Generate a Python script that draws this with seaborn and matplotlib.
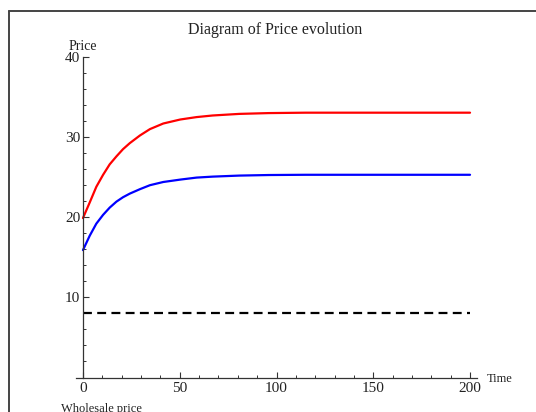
import numpy as np
import pandas as pd
import matplotlib
matplotlib.use("Agg")
import matplotlib.pyplot as plt
from matplotlib.lines import Line2D
from matplotlib.ticker import MultipleLocator
import seaborn as sns

# ---- data ----
time = [0, 3.5, 6.9, 10.4, 13.8, 17.3, 20.7, 24.2, 29.4, 34.6, 41.5, 50.3,
        58.7, 67, 80.8, 96, 115, 140, 170, 200]
retail_price = [19.9, 21.85, 23.8, 25.3, 26.6, 27.6, 28.5, 29.25, 30.2, 31.0,
                31.7, 32.2, 32.5, 32.7, 32.9, 33.0, 33.05, 33.05, 33.05, 33.05]
other_price = [15.9, 17.7, 19.2, 20.3, 21.2, 21.95, 22.5, 22.95, 23.5, 24.0,
               24.4, 24.7, 24.95, 25.07, 25.2, 25.27, 25.3, 25.3, 25.3, 25.3]
wholesale_time = [0, 200]
wholesale_price = [8.0, 8.0]

x_ticks = [0, 50, 100, 150, 200]
y_ticks = [10, 20, 30, 40]

title = "Diagram of Price evolution"
xlabel = "Time"
ylabel = "Price"
bottom_note = "Wholesale price"

sns.set_theme(style="white")
plt.rcParams['font.family'] = ['Liberation Serif', 'DejaVu Serif']

fig = plt.figure(figsize=(5.36, 4.12), dpi=100)
fig.patch.set_facecolor("white")

W, H = 536.0, 412.0
left_px, right_px = 76.0, 477.0
top_px, bot_px = 57.0, 377.5
ax = fig.add_axes([left_px / W, 1 - bot_px / H,
                   (right_px - left_px) / W, (bot_px - top_px) / H])

df_curves = pd.DataFrame({"t": time + time,
                          "p": retail_price + other_price,
                          "series": ["red"] * len(time) + ["blue"] * len(time)})
sns.lineplot(data=df_curves, x="t", y="p", hue="series",
             palette={"red": "#ff0000", "blue": "#0000ff"},
             linewidth=1.6, legend=False, ax=ax, estimator=None, sort=False)
for ln in ax.lines:
    ln.set_solid_joinstyle("round")

df_w = pd.DataFrame({"t": wholesale_time, "p": wholesale_price})
sns.lineplot(data=df_w, x="t", y="p", color="black", linewidth=1.6,
             ax=ax, legend=False)
ax.lines[-1].set_dashes([4.0, 2.4])

ax.set_xlim(-3.6, 203.6)
ax.set_ylim(0, 40)
ax.set_xlabel("")
ax.set_ylabel("")

for s in ["top", "right"]:
    ax.spines[s].set_visible(False)
ax.spines["left"].set_position(("data", 0))
ax.spines["left"].set_bounds(0, 40)
for s in ["left", "bottom"]:
    ax.spines[s].set_color("#333333")
    ax.spines[s].set_linewidth(0.9)

ax.set_xticks(x_ticks)
ax.set_yticks(y_ticks)
ax.xaxis.set_minor_locator(MultipleLocator(10))
ax.yaxis.set_minor_locator(MultipleLocator(2))
ax.tick_params(axis="both", which="major", direction="in", length=4.0,
               width=0.8, color="#333333", labelsize=11, labelcolor="#222222")
ax.tick_params(axis="both", which="minor", direction="in", length=2.2,
               width=0.7, color="#333333")
ax.tick_params(axis="x", which="both", bottom=True, pad=3.5)
ax.tick_params(axis="y", which="both", left=True, pad=2)
ax.grid(False)

fig.text(275 / W, 1 - 30 / H, title, ha="center", va="center", fontsize=11.5,
         color="#222222")
fig.text(83 / W, 1 - 46 / H, ylabel, ha="center", va="center", fontsize=10,
         color="#222222")
fig.text(487 / W, 1 - 379 / H, xlabel, ha="left", va="center", fontsize=9,
         color="#222222")
fig.text(61 / W, 1 - 403 / H, bottom_note, ha="left", va="top", fontsize=9,
         color="#222222")

# outer frame (cropped)
fig.add_artist(Line2D([8.5 / W, 1.0], [1 - 10.5 / H, 1 - 10.5 / H],
                      transform=fig.transFigure, color="#444444", linewidth=1.4))
fig.add_artist(Line2D([8.5 / W, 8.5 / W], [1 - 10.5 / H, 0.0],
                      transform=fig.transFigure, color="#444444", linewidth=1.4))

fig.savefig("out.png", dpi=100)
